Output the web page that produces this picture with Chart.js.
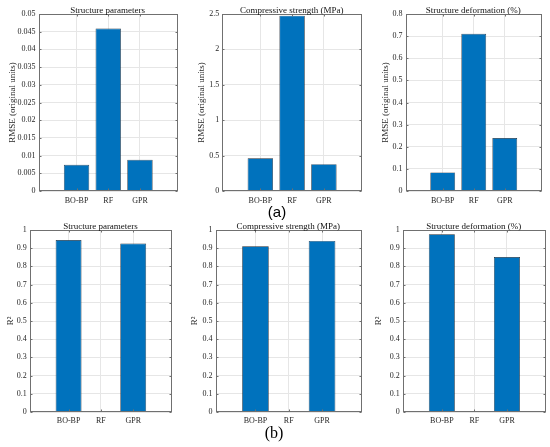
<!DOCTYPE html>
<html>
<head>
<meta charset="utf-8">
<script src="https://cdn.jsdelivr.net/npm/chart.js@4.4.1/dist/chart.umd.min.js"></script>
<style>
  body { margin: 0; width: 550px; height: 447px; background: #fff; position: relative; overflow: hidden; }
  canvas { position: absolute; }
  .tag { position: absolute; transform: translate(-50%, -50%); color: #000; white-space: nowrap; }
  .ttl { position: absolute; transform: translate(-50%, -50%); color: #111; white-space: nowrap;
         font: 9px 'Liberation Serif', 'Times New Roman', serif; line-height: 1; }
</style>
</head>
<body>
<canvas id="c0"></canvas>
<canvas id="c1"></canvas>
<canvas id="c2"></canvas>
<canvas id="c3"></canvas>
<canvas id="c4"></canvas>
<canvas id="c5"></canvas>
<div class="tag" style="left:277px; top:211px; font: 15px 'Liberation Sans', sans-serif;">(a)</div>
<div class="tag" style="left:274px; top:433px; font: 16px 'Liberation Serif', serif;">(b)</div>
<script>
const models = ['BO-BP', 'RF', 'GPR'];
const outputs = ['Structure parameters', 'Compressive strength (MPa)', 'Structure deformation (%)'];

// RMSE per output (original units)
const rmseStructure = [0.0074, 0.0459, 0.0088];
const rmseStrength = [0.463, 2.477, 0.379];
const rmseDeformation = [0.084, 0.711, 0.239];
const rmseMax = [0.05, 2.5, 0.8];
const rmseStep = [0.005, 0.5, 0.1];

// R² per output, RF has no bar
const r2Structure = [0.945, null, 0.926];
const r2Strength = [0.911, null, 0.940];
const r2Deformation = [0.976, null, 0.851];

const serif = "'Liberation Serif', 'Times New Roman', serif";

const geo = [
  { l: 38,    r: 177.3, t: 14,  b: 190.7, ty: 12 },
  { l: 221.7, r: 361.7, t: 14,  b: 190.7, ty: 201 },
  { l: 405,   r: 541.7, t: 14,  b: 190.7, ty: 385 },
  { l: 29.3,  r: 171.7, t: 230, b: 411.7, ty: 10 },
  { l: 215,   r: 361.7, t: 230, b: 411.7, ty: 194 },
  { l: 402.3, r: 545,   t: 230, b: 411.7, ty: 378 }
];

const frame = {
  id: 'frame',
  afterDraw(chart) {
    const { ctx, chartArea: a } = chart;
    const L = Math.round(a.left) + 0.5, T = Math.round(a.top) + 0.5;
    const R = Math.round(a.right) - 0.5, B = Math.round(a.bottom) - 0.5;
    ctx.save();
    ctx.strokeStyle = '#707070';
    ctx.lineWidth = 1;
    ctx.beginPath();
    // inward ticks
    chart.scales.y.ticks.forEach(t => {
      const y = Math.round(chart.scales.y.getPixelForValue(t.value)) + 0.5;
      ctx.moveTo(L, y); ctx.lineTo(L + 2, y);
      ctx.moveTo(R, y); ctx.lineTo(R - 2, y);
    });
    chart.scales.x.ticks.forEach(t => {
      const x = Math.round(chart.scales.x.getPixelForValue(t.value)) + 0.5;
      ctx.moveTo(x, B); ctx.lineTo(x, B - 2);
      ctx.moveTo(x, T); ctx.lineTo(x, T + 2);
    });
    ctx.stroke();
    ctx.strokeRect(L, T, R - L, B - T);
    ctx.restore();
  }
};

function panel(i, title, yLabel, values, yMax, yStep, xPad) {
  const g = geo[i];
  const left = g.ty - 4.5;
  const top = g.t - 9;
  const yw = g.l - left;
  const cv = document.getElementById('c' + i);
  cv.width = Math.round(g.r - left + 4);
  cv.height = Math.round(g.b - top + 20);
  cv.style.left = left + 'px';
  cv.style.top = top + 'px';

  const t = document.createElement('div');
  t.className = 'ttl';
  t.textContent = title;
  t.style.left = ((g.l + g.r) / 2) + 'px';
  t.style.top = (g.t - 4.5) + 'px';
  document.body.appendChild(t);

  new Chart(cv, {
    type: 'bar',
    data: {
      datasets: [{
        data: values.map((v, k) => ({ x: k + 1, y: v })),
        backgroundColor: '#0072BD',
        borderColor: '#1e2a36',
        borderWidth: 0.7,
        categoryPercentage: 0.8,
        barPercentage: 1
      }]
    },
    options: {
      responsive: false,
      animation: false,
      layout: { padding: { top: 9, right: 4 } },
      plugins: {
        legend: { display: false },
        tooltip: { enabled: false }
      },
      scales: {
        x: {
          type: 'linear',
          offset: false,
          min: -0.2,
          max: 4.2,
          afterBuildTicks: s => { s.ticks = models.map((m, k) => ({ value: k + 1 })); },
          afterFit: s => { s.height = 20; },
          ticks: {
            callback: v => models[v - 1],
            color: '#262626',
            font: { family: serif, size: 8 },
            padding: xPad,
            maxRotation: 0,
            autoSkip: false
          },
          grid: { color: '#e6e6e6', drawTicks: false, offset: false },
          border: { display: false }
        },
        y: {
          min: 0,
          max: yMax,
          afterFit: s => { s.width = yw; },
          ticks: {
            stepSize: yStep,
            callback: v => String(+v.toFixed(4)),
            color: '#262626',
            font: { family: serif, size: 8 },
            padding: 3
          },
          grid: { color: '#e6e6e6', drawTicks: false },
          border: { display: false },
          title: {
            display: true,
            text: yLabel,
            color: '#262626',
            font: { family: serif, size: 9, lineHeight: 1 },
            padding: 0
          }
        }
      }
    },
    plugins: [frame]
  });
}

const rmseSets = [rmseStructure, rmseStrength, rmseDeformation];
const r2Sets = [r2Structure, r2Strength, r2Deformation];

rmseSets.forEach((vals, k) => panel(k, outputs[k], 'RMSE (original units)', vals, rmseMax[k], rmseStep[k], 5));
r2Sets.forEach((vals, k) => panel(k + 3, outputs[k], 'R²', vals, 1, 0.1, 4));
</script>
</body>
</html>
